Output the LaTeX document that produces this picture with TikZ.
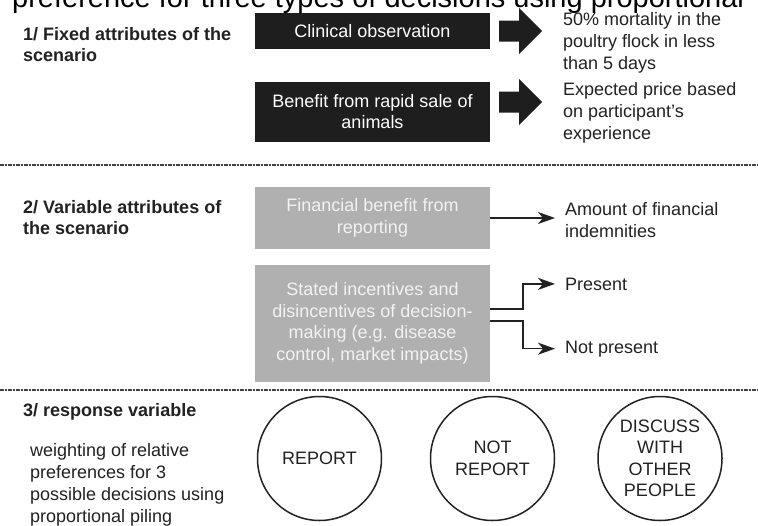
\documentclass[tikz,border=0pt]{standalone}
\usepackage{fontspec}
\setmainfont{Liberation Sans}
\usetikzlibrary{arrows.meta}

\definecolor{ink}{HTML}{222222}
\definecolor{boxblack}{HTML}{1E1E1E}
\definecolor{boxgray}{HTML}{B0B0B0}
\definecolor{boxtext}{HTML}{F2F2F2}
\definecolor{sepgray}{HTML}{444444}

\begin{document}
\begin{tikzpicture}[x=1pt, y=-1pt, >={Stealth[length=17pt,width=12pt,inset=5pt]},
    every node/.style={inner sep=0pt, text=ink},
    heading/.style={font=\bfseries\fontsize{18}{21}\selectfont, align=left, anchor=base west},
    body/.style={font=\fontsize{18}{22}\selectfont, align=left, anchor=base west},
    blackbox/.style={fill=boxblack, text=white, minimum width=235pt, align=center,
        font=\fontsize{18}{21}\selectfont},
    graybox/.style={fill=boxgray, text=boxtext, minimum width=235pt, align=center,
        font=\fontsize{18}{21.5}\selectfont},
    choice/.style={circle, draw=ink, line width=1.5pt, minimum size=124pt, align=center,
        font=\fontsize{18}{21.5}\selectfont},
    sepline/.style={draw=sepgray, line width=1.3pt, dash pattern=on 3.5pt off 1.5pt on 1.5pt off 1.5pt},
    conn/.style={->, draw=ink, line width=1.6pt, shorten >=10pt}]

    % 画布大小
    \useasboundingbox (0,0) rectangle (758,525);
    \fill[white] (0,0) rectangle (758,525);
    \clip (0,0) rectangle (758,525);

    % 上方被截去的标题
    \node[anchor=base west, font=\fontsize{29}{34}\selectfont, text=black] (cap) at (12,7)
        {preference for three types of decisions using proportional};

    % 第一部分：固定属性（多行文字按末行基线定位）
    \node[heading] (head1) at (23,61) {1/ Fixed attributes of the\\scenario};
    \node[blackbox, minimum height=36pt] (obs) at (372.5,31) {Clinical observation};
    \node[blackbox, minimum height=60pt] (sale) at (372.5,112) {Benefit from rapid sale of\\animals};
    \foreach \y in {31,102}
        \fill[boxblack] (499,\y-10.5) -- (519,\y-10.5) -- (519,\y-23) -- (542,\y)
            -- (519,\y+23) -- (519,\y+10.5) -- (499,\y+10.5) -- cycle;
    \node[body] (mort) at (563,69) {50\% mortality in the\\poultry flock in less\\than 5 days};
    \node[body] (price) at (563,139) {Expected price based\\on participant's\\experience};

    \draw[sepline] (0,165) -- (758,165);

    % 第二部分：可变属性
    \node[heading] (head2) at (23,234) {2/ Variable attributes of\\the scenario};
    \node[graybox, minimum height=62pt] (fin) at (372.5,218) {Financial benefit from\\reporting};
    \node[graybox, minimum height=117pt] (inc) at (372.5,323.5)
        {Stated incentives and\\disincentives of decision-\\making (e.g. disease\\control, market impacts)};
    \node[body] (amt) at (565,237) {Amount of financial\\indemnities};
    \node[body] (pres) at (565,290) {Present};
    \node[body] (npres) at (565,353) {Not present};

    \draw[conn] (fin.east) -- (fin.east -| amt.west);
    \draw[conn] ([yshift=14.5pt]inc.east) -- ++(33,0) |- (pres.west);
    \draw[conn] ([yshift=2.5pt]inc.east) -- ++(33,0) |- (npres.west);

    \draw[sepline] (0,390) -- (758,390);

    % 第三部分：响应变量
    \node[heading] (head3) at (23,416) {3/ response variable};
    \node[body] (weight) at (30,522)
        {weighting of relative\\preferences for 3\\possible decisions using\\proportional piling};
    \node[choice] (rep) at (319.5,458.5) {REPORT};
    \node[choice] (nrep) at (492.5,458.5) {NOT\\REPORT};
    \node[choice] (disc) at (660,458.5) {DISCUSS\\WITH\\OTHER\\PEOPLE};
\end{tikzpicture}
\end{document}
